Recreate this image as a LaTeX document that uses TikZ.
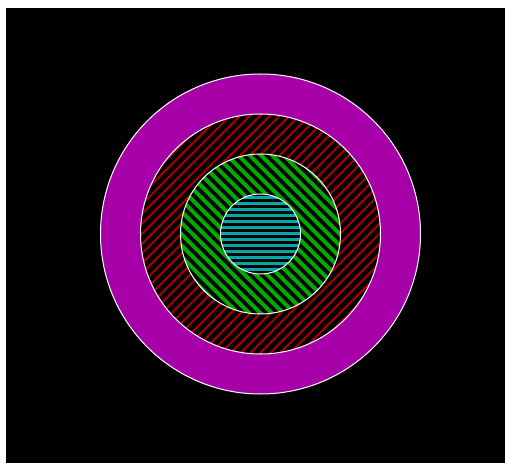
\documentclass[tikz,border=0pt]{standalone}
\usepackage{tikz}
\usepackage{xcolor}
\definecolor{ringmagenta}{HTML}{A800A8}
\definecolor{ringred}{HTML}{A80000}
\definecolor{ringgreen}{HTML}{00A800}
\definecolor{ringcyan}{HTML}{00A8A8}

\begin{document}
\begin{tikzpicture}[
  x=1pt, y=1pt,
  ringedge/.style={draw=white, line width=1pt},
  redhatch/.style={draw=ringred, line width=2pt},
  greenhatch/.style={draw=ringgreen, line width=4pt},
  cyanhatch/.style={draw=ringcyan, line width=3pt}
]

  % Page and black field
  \useasboundingbox (0,0) rectangle (505,463);
  \fill[white] (0,0) rectangle (505,463);
  \fill[black] (6,0) rectangle (505,455);

  \coordinate (ctr) at (260.5,229);

  % Outer magenta ring
  \fill[ringmagenta] (ctr) circle (160);
  \fill[black] (ctr) circle (120);

  % Red ring, hatched north-east
  \begin{scope}
    \clip (ctr) circle (120);
    \begin{scope}[shift={(ctr)}, rotate=45]
      \foreach \k in {-18,...,18}
        \draw[redhatch] (-130,\k*7) -- (130,\k*7);
    \end{scope}
  \end{scope}
  \fill[black] (ctr) circle (80);

  % Green ring, hatched south-east
  \begin{scope}
    \clip (ctr) circle (80);
    \begin{scope}[shift={(ctr)}, rotate=-45]
      \foreach \k in {-11,...,11}
        \draw[greenhatch] (-90,\k*8) -- (90,\k*8);
    \end{scope}
  \end{scope}
  \fill[black] (ctr) circle (40);

  % Cyan core, horizontal hatch
  \begin{scope}
    \clip (ctr) circle (40);
    \begin{scope}[shift={(ctr)}]
      \foreach \k in {-7,...,7}
        \draw[cyanhatch] (-45,\k*6) -- (45,\k*6);
    \end{scope}
  \end{scope}

  % White outlines
  \foreach \r in {40,80,120,160}
    \draw[ringedge] (ctr) circle (\r);

\end{tikzpicture}
\end{document}
